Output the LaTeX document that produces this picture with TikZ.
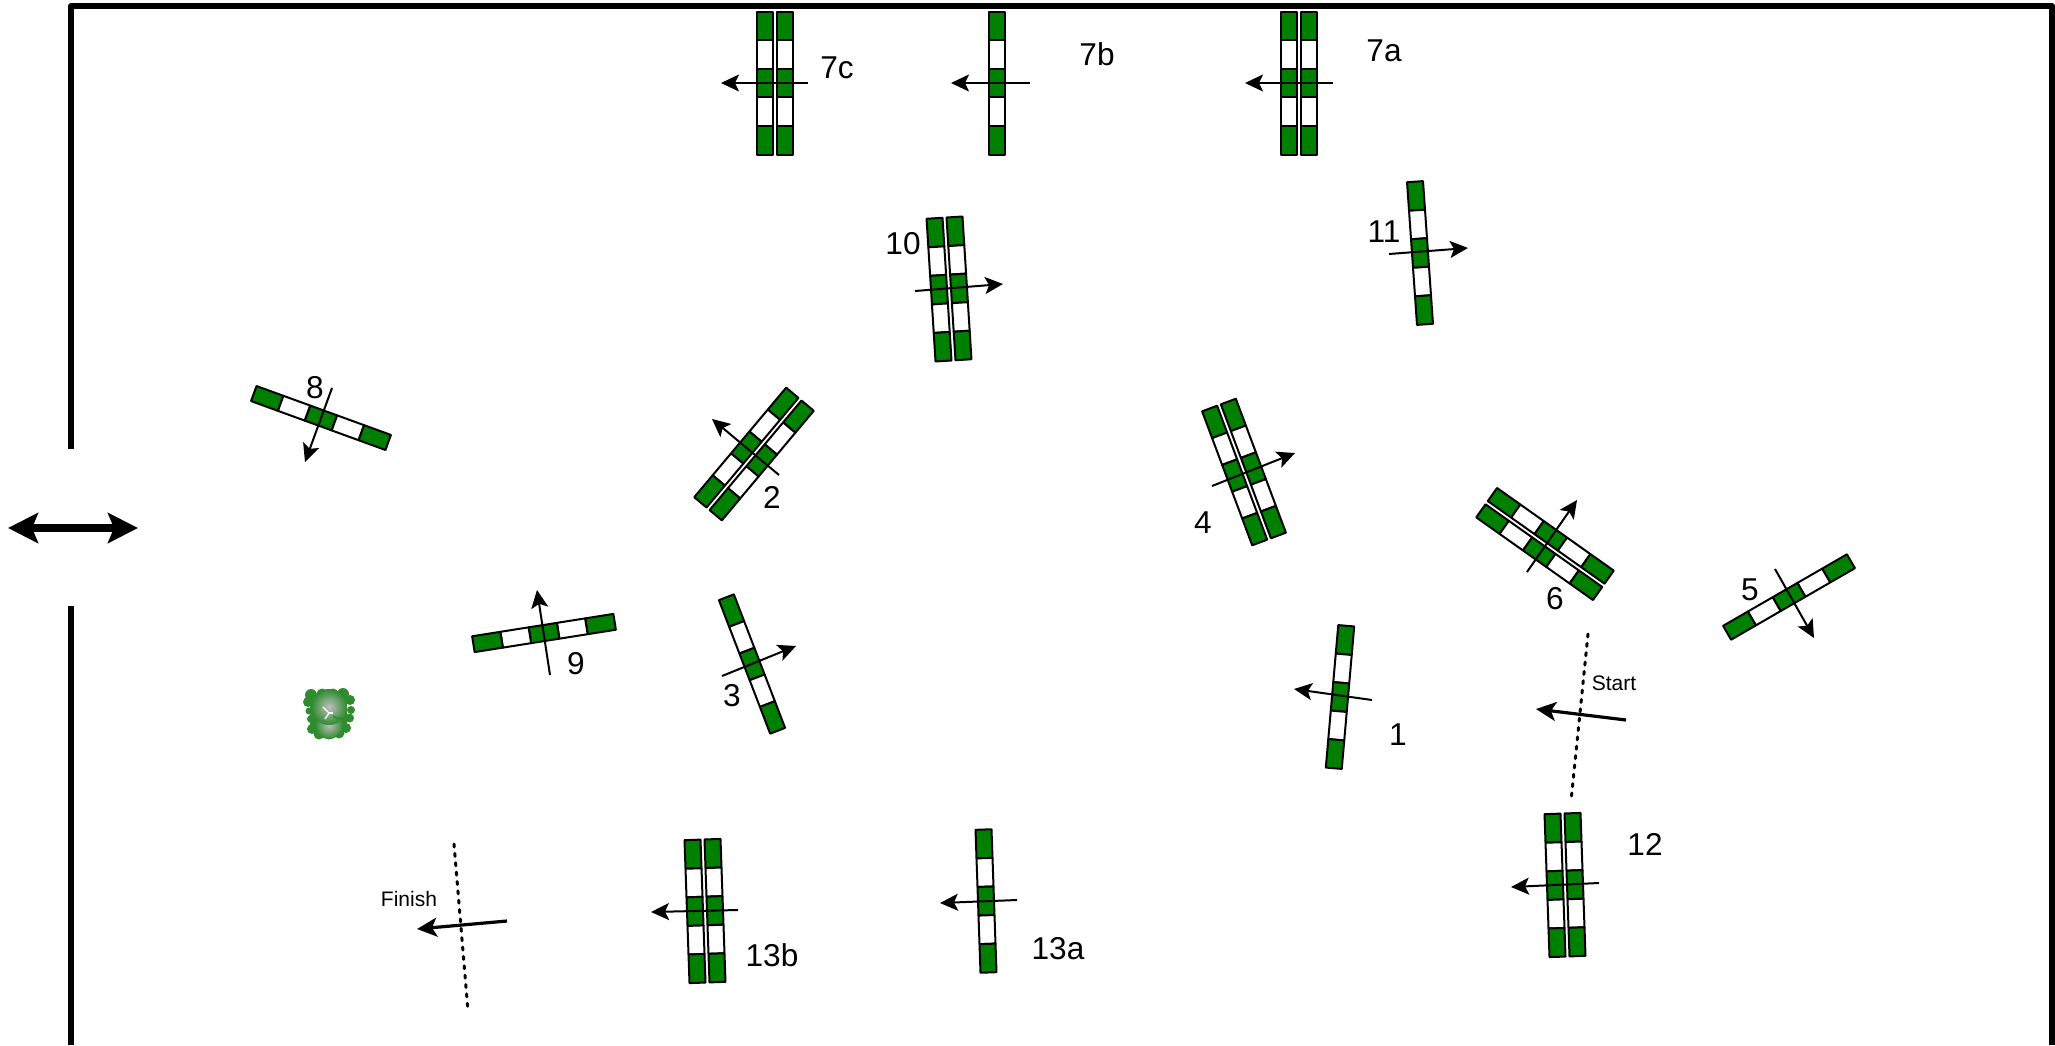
\documentclass[tikz,border=0pt]{standalone}
\usepackage{fontspec}
\setmainfont{Liberation Sans}
\usetikzlibrary{arrows.meta}
\definecolor{JumpGreen}{HTML}{008000}
\definecolor{TreeGreen}{HTML}{2E8B2E}
\newcommand{\railbar}[1]{%
  \foreach \k/\c in {0/JumpGreen,1/white,2/JumpGreen,3/white,4/JumpGreen}
    \draw[railbox,fill=\c] (#1-8,-71.5+28.6*\k) rectangle (#1+8,-71.5+28.6*\k+28.6);}
\newcommand{\jumpone}[3]{\begin{scope}[shift={(#1,#2)},rotate=#3]\railbar{0}\end{scope}}
\newcommand{\jumptwo}[3]{\begin{scope}[shift={(#1,#2)},rotate=#3]\railbar{-10}\railbar{10}\end{scope}}
\begin{document}
\begin{tikzpicture}[x=0.5pt,y=-0.5pt,>={Stealth[length=9pt,width=8.5pt,inset=2pt]}]
  \tikzstyle{railbox}=[draw=black,line width=1pt,line join=round]
  \tikzstyle{jumpdir}=[->,line width=1pt,color=black]
  \tikzstyle{linedir}=[-{Stealth[length=10pt,width=9.5pt,inset=2.5pt]},line width=1.6pt,color=black]
  \tikzstyle{gate}=[line width=1.5pt,line cap=round,dash pattern=on 1.5pt off 3.2pt]
  \tikzstyle{wall}=[line width=3pt,line join=round]
  \tikzstyle{numlabel}=[font=\fontsize{15.8}{18}\selectfont,inner sep=0pt]
  \tikzstyle{linelabel}=[font=\fontsize{10.5}{12}\selectfont,inner sep=0pt]
  \useasboundingbox (0,0) rectangle (2055,1045);
  % ring
  \draw[wall] (71,449)--(71,6)--(2052,6)--(2052,1045);
  \draw[wall] (71,606)--(71,1045);
  \coordinate (gateL) at (8,528);
  \coordinate (gateR) at (138,528);
  \draw[{Stealth[length=15pt,width=15pt,inset=3pt]}-{Stealth[length=15pt,width=15pt,inset=3pt]},line width=3.6pt] (gateL)--(gateR);
  % jumps
  \jumptwo{775}{83}{0}
  \jumpone{997}{83}{0}
  \jumptwo{1299}{83}{0}
  \jumptwo{949}{289}{3.6}
  \jumpone{1420}{253}{4}
  \jumpone{321}{418}{70}
  \jumptwo{754}{454}{-40}
  \jumpone{752}{664}{21}
  \jumptwo{1244}{472}{20.5}
  \jumptwo{1545}{544}{54.7}
  \jumpone{1789}{597}{-60}
  \jumpone{544}{633}{-81}
  \jumpone{1340}{697}{-5}
  \jumptwo{1565}{885}{2}
  \jumpone{986}{901}{2}
  \jumptwo{705}{911}{2}
  % directions
  \foreach \xa/\ya/\xb/\yb in {808/83/721/83,1030/83/951/83,1333/83/1245/83,
    915/291/1003/284,1389/254/1468/248,332/388/305/462,779/475/712/419,
    722/676/796/646,1212/486/1295/453,1527/572/1577/500,1775/569/1814/638,
    550/675/537/590,1372/700/1294/689,1599/883/1511/887,1017/900/940/903,738/910/651/912}
    \draw[jumpdir] (\xa,\ya)--(\xb,\yb);
  % numbers
  \node[numlabel] (n7c) at (837,68) {7c};
  \node[numlabel] (n7b) at (1097,54) {7b};
  \node[numlabel] (n7a) at (1384,51) {7a};
  \node[numlabel] (n10) at (903,244) {10};
  \node[numlabel] (n11) at (1384,232) {11};
  \node[numlabel] (n8) at (315,388) {8};
  \node[numlabel] (n2) at (772,497) {2};
  \node[numlabel] (n3) at (732,696) {3};
  \node[numlabel] (n4) at (1203,523) {4};
  \node[numlabel] (n6) at (1555,599) {6};
  \node[numlabel] (n5) at (1750,590) {5};
  \node[numlabel] (n9) at (576,664) {9};
  \node[numlabel] (n1) at (1398,735) {1};
  \node[numlabel] (n12) at (1645,844) {12};
  \node[numlabel] (n13a) at (1058,949) {13a};
  \node[numlabel] (n13b) at (772,955) {13b};
  % start and finish
  \draw[gate] (1588,634)--(1571,801);
  \draw[linedir] (1626,720)--(1536,709);
  \node[linelabel] (start) at (1614,683) {Start};
  \draw[gate] (454,844)--(468,1011);
  \draw[linedir] (507,921)--(417,929);
  \node[linelabel] (finish) at (409,899) {Finish};
  % tree
  \foreach \x/\y/\r in {311/695/6,322/694/5.5,333/694/5.5,343/694/6,350/700/5,351/710/4,
    349.5/718/4.5,346/728/5,339/733/5.5,329/734/5.5,319/734/5.5,312/729/5,311/719/4,309/711/3.5,308/702/5}
    \fill[TreeGreen] (\x,\y) circle (\r);
  \fill[TreeGreen] (310,695) rectangle (347,731);
  \shade[inner color=black!25,outer color=TreeGreen] (329,725) circle (14);
  \shade[inner color=black!25,outer color=TreeGreen] (329,707) circle (18);
  \draw[white,line width=0.7pt] (323,707)--(329,713)--(325,719);
  \draw[white,line width=0.6pt] (329,713)--(333,713);
  \draw[TreeGreen,line width=1pt] (333,716) .. controls (338,720) and (344,720) .. (347,716);
\end{tikzpicture}
\end{document}
